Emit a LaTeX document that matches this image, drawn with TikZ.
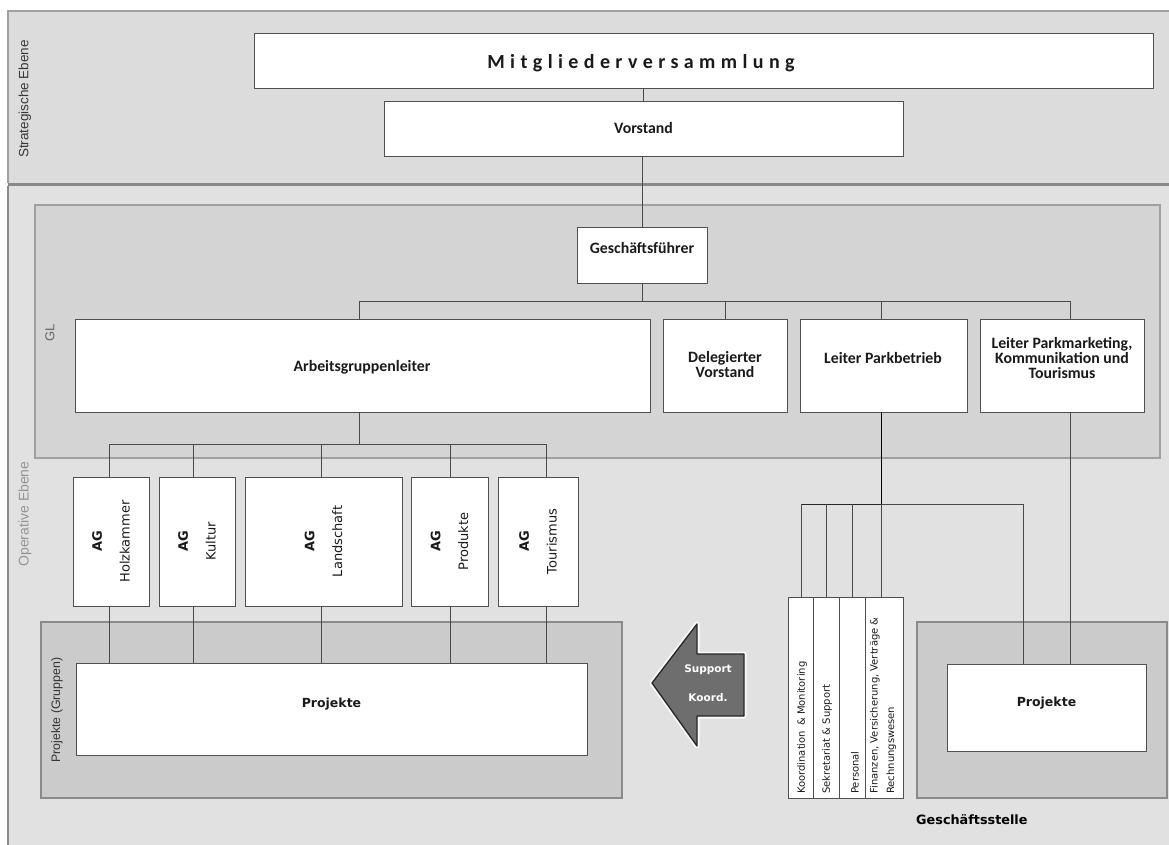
\documentclass[tikz,border=0pt]{standalone}
\usepackage{fontspec}
\setmainfont{Carlito}
\newfontfamily\vfont{DejaVu Sans}
\newfontfamily\afont{Liberation Sans}
\newfontfamily\spacedfont[LetterSpace=27]{Carlito}
\usetikzlibrary{calc,fit}

\definecolor{stratbg}{HTML}{DCDCDC}
\definecolor{operbg}{HTML}{E1E1E1}
\definecolor{glbg}{HTML}{D4D4D4}
\definecolor{projbg}{HTML}{CBCBCB}
\definecolor{panelline}{HTML}{A0A0A0}
\definecolor{sepline}{HTML}{8A8A8A}
\definecolor{boxline}{HTML}{505050}
\definecolor{connline}{HTML}{4A4A4A}
\definecolor{arrowfill}{HTML}{6E6E6E}
\definecolor{txt}{HTML}{1A1A1A}

\tikzset{
  box/.style={draw=boxline, fill=white, line width=0.9pt, inner sep=0pt, text=txt},
  hdr/.style={font=\bfseries\fontsize{15.8}{15}\selectfont, text=txt, align=center, inner sep=0pt},
  agtext/.style={rotate=90, align=center, text=txt, font=\vfont\fontsize{13}{15.6}\selectfont},
  coltext/.style={rotate=90, anchor=west, align=left, text=txt, inner sep=0pt,
    font=\vfont\fontsize{10}{16.5}\selectfont},
  projtext/.style={font=\vfont\bfseries\fontsize{12.5}{15}\selectfont, text=txt},
  side/.style={rotate=90, font=\afont\fontsize{13.5}{16}\selectfont, inner sep=0pt},
  conn/.style={draw=connline, line width=0.9pt},
  connstrong/.style={draw=black, line width=1.4pt},
  panel/.style={draw=panelline, line width=1.2pt},
  projpanel/.style={fill=projbg, draw=sepline, line width=1.5pt},
  arrowlabel/.style={text=white, font=\vfont\bfseries\fontsize{10.5}{12}\selectfont, inner sep=0pt},
}

\begin{document}
\begin{tikzpicture}[x=1pt, y=-1pt]
\useasboundingbox (0,0) rectangle (1169,845);
\fill[white] (0,0) rectangle (1169,845);

% strategic level
\fill[stratbg] (8,11) rectangle (1169,183);
\draw[panel, line width=2pt] (1169,11) -- (8,11) -- (8,183);
% operative level
\fill[operbg] (8,186) rectangle (1169,845);
\draw[draw=sepline, line width=3pt] (8,184.5) -- (1169,184.5);
\draw[draw=sepline, line width=2pt] (8,186) -- (8,845);
% management (GL) band
\fill[glbg] (35,205) rectangle (1160,458);
\draw[panel] (35,205) rectangle (1160,458);
% project groups
\draw[projpanel] (41,622) rectangle (622,798);
\draw[projpanel] (917,622) rectangle (1167,798);

% level labels
\node[side, text=black!78] (lblS) at (25,99) {Strategische Ebene};
\node[side, text=black!60, font=\afont\fontsize{13}{15}\selectfont] (lblGL) at (50,333) {GL};
\node[side, text=black!42, font=\afont\fontsize{14}{16}\selectfont] (lblO) at (25,514) {Operative Ebene};
\node[side, text=black!80, font=\afont\fontsize{12.3}{14}\selectfont] (lblP) at (57,710) {Projekte (Gruppen)};

% top boxes
\node[box, fit={(254,33) (1153,88)}] (mv) {};
\node[text=txt, font=\spacedfont\bfseries\fontsize{20}{22}\selectfont, inner sep=0pt] (mvt) at (641,63) {Mitgliederversammlung};
\node[box, fit={(384,101) (903,156)}] (vs) {};
\node[hdr] (vst) at (vs.center) {Vorstand};

\node[box, fit={(577,227) (707,283)}] (gf) {};
\node[hdr] (gft) at (642,248) {Geschäftsführer};

\node[box, fit={(75,319) (650,412)}] (agl) {};
\node[hdr] (aglt) at (362,367) {Arbeitsgruppenleiter};
\node[box, fit={(663,319) (787,412)}] (dv) {};
\node[hdr] (dvt) at (725,365) {Delegierter\\Vorstand};
\node[box, fit={(800,319) (967,412)}] (lpb) {};
\node[hdr] (lpbt) at (883,358) {Leiter Parkbetrieb};
\node[box, fit={(980,319) (1144,412)}] (lpm) {};
\node[hdr] (lpmt) at (1062,358) {Leiter Parkmarketing,\\Kommunikation und\\Tourismus};

% working groups
\node[box, fit={(73,477) (149,606)}] (ag1) {};
\node[agtext] (ag1t) at (ag1.center) {\bfseries AG\\[12pt]Holzkammer};
\node[box, fit={(159,477) (235,606)}] (ag2) {};
\node[agtext] (ag2t) at (ag2.center) {\bfseries AG\\[12pt]Kultur};
\node[box, fit={(245,477) (402,606)}] (ag3) {};
\node[agtext] (ag3t) at (ag3.center) {\bfseries AG\\[12pt]Landschaft};
\node[box, fit={(411,477) (488,606)}] (ag4) {};
\node[agtext] (ag4t) at (ag4.center) {\bfseries AG\\[12pt]Produkte};
\node[box, fit={(498,477) (578,606)}] (ag5) {};
\node[agtext] (ag5t) at (ag5.center) {\bfseries AG\\[12pt]Tourismus};

% projects
\node[box, fit={(76,663) (587,755)}, projtext] (pj1) {Projekte};
\node[box, fit={(947,664) (1146,751)}, projtext] (pj2) {Projekte};

% office columns
\node[box, fit={(788,597) (813,798)}] (c1) {};
\node[box, fit={(813,597) (839,798)}] (c2) {};
\node[box, fit={(839,597) (865,798)}] (c3) {};
\node[box, fit={(865,597) (903,798)}] (c4) {};
\node[coltext] (c1t) at (802,794) {Koordination \,\& Monitoring};
\node[coltext] (c2t) at (827,794) {Sekretariat \& Support};
\node[coltext] (c3t) at (855,794) {Personal};
\node[coltext] (c4t) at (883,794) {Finanzen, Versicherung, Verträge \&\\Rechnungswesen};

\node[font=\vfont\bfseries\fontsize{12.8}{15}\selectfont, anchor=west, inner sep=0pt, text=black] (gs) at (916,820) {Geschäftsstelle};

% support arrow
\coordinate (ar1) at (652,683);
\coordinate (ar2) at (697,624);
\coordinate (ar3) at (697,654);
\coordinate (ar4) at (744,654);
\coordinate (ar5) at (744,716);
\coordinate (ar6) at (697,716);
\coordinate (ar7) at (697,746);
\draw[white, line width=5pt, line join=round, opacity=0.8] (ar1) -- (ar2) -- (ar3) -- (ar4) -- (ar5) -- (ar6) -- (ar7) -- cycle;
\draw[fill=arrowfill, draw=black!85, line width=1.3pt, line join=round] (ar1) -- (ar2) -- (ar3) -- (ar4) -- (ar5) -- (ar6) -- (ar7) -- cycle;
\node[arrowlabel] (sup1) at (708,670) {Support};
\node[arrowlabel] (sup2) at (708,698) {Koord.};

% connectors: top
\draw[conn] (vs.north) -- (vs.north |- mv.south);
\draw[conn] (gf.north) -- (gf.north |- vs.south);

% connectors: management bus
\coordinate (busA) at (0,301);
\coordinate (lpmD) at ($(lpm.south)+(8,0)$);
\coordinate (lpmU) at ($(lpm.north)+(8,0)$);
\coordinate (aglU) at ($(agl.north)+(-3,0)$);
\coordinate (aglD) at ($(agl.south)+(-3,0)$);
\coordinate (lpbU) at ($(lpb.north)+(-2,0)$);
\coordinate (lpbD) at ($(lpb.south)+(-2,0)$);
\draw[conn] (gf.south) -- (gf.south |- busA);
\draw[conn] (aglU) -- (aglU |- busA) -- (lpmU |- busA) -- (lpmU);
\draw[conn] (dv.north) -- (dv.north |- busA);
\draw[conn] (lpbU) -- (lpbU |- busA);

% connectors: working groups
\coordinate (busB) at (0,444);
\coordinate (t1) at ($(ag1.north)+(-2,0)$);
\coordinate (t2) at ($(ag2.north)+(-4,0)$);
\coordinate (t3) at ($(ag3.north)+(-2,0)$);
\coordinate (t4) at ($(ag4.north)+(0.5,0)$);
\coordinate (t5) at ($(ag5.north)+(8,0)$);
\coordinate (b1) at ($(ag1.south)+(-2,0)$);
\coordinate (b2) at ($(ag2.south)+(-4,0)$);
\coordinate (b3) at ($(ag3.south)+(-2,0)$);
\coordinate (b4) at ($(ag4.south)+(0.5,0)$);
\coordinate (b5) at ($(ag5.south)+(8,0)$);
\draw[conn] (aglD) -- (aglD |- busB);
\draw[conn] (t1 |- busB) -- (t5 |- busB);
\foreach \i in {1,...,5} {
  \draw[conn] (t\i) -- (t\i |- busB);
  \draw[conn] (b\i) -- (b\i |- pj1.north);
}

% connectors: office
\coordinate (busC) at (0,504);
\coordinate (pjA) at ($(pj2.north)+(-23.5,0)$);
\coordinate (c1U) at ($(c1.north)+(1,0)$);
\draw[connstrong] (lpbD) -- (lpbD |- busC);
\draw[conn, draw=black!85] (c1U |- busC) -- (lpbD |- busC);
\draw[conn] (lpbD |- busC) -- (pjA |- busC) -- (pjA);
\draw[conn] (c1U) -- (c1U |- busC);
\draw[conn] (c2.north) -- (c2.north |- busC);
\draw[conn] (c3.north) -- (c3.north |- busC);
\draw[conn] (lpbD |- busC) -- (lpbD |- c4.north);
\draw[conn] (lpmD) -- (lpmD |- pj2.north);
\end{tikzpicture}
\end{document}
